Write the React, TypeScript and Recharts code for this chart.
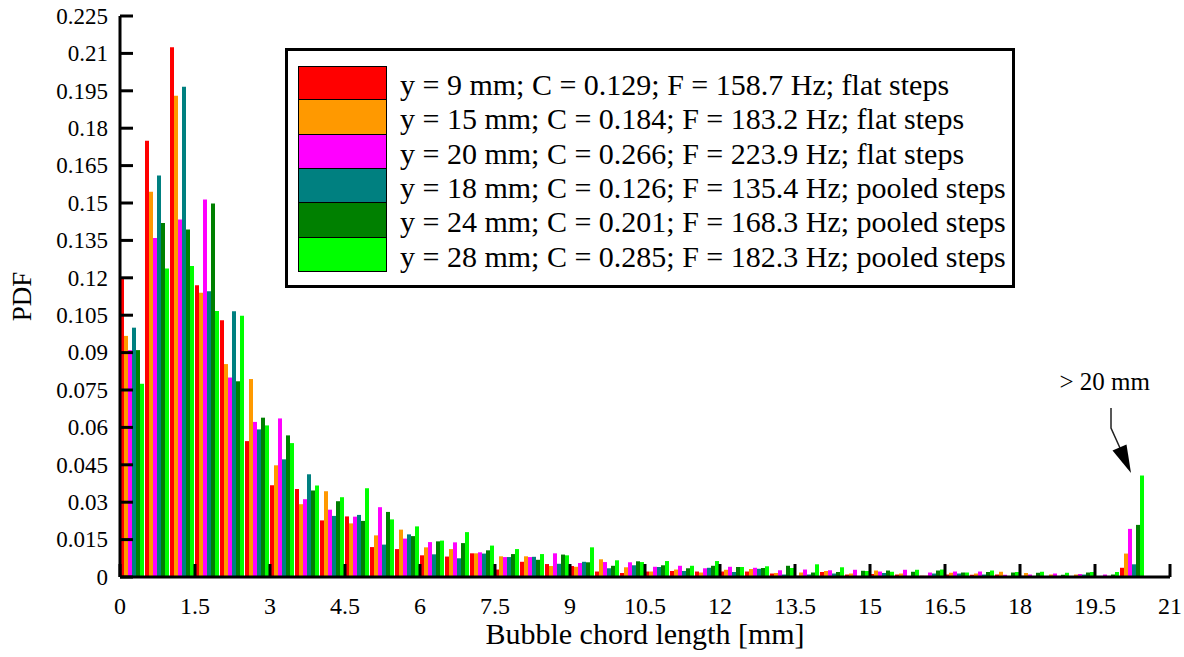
import React from 'react';
import { BarChart, Bar, XAxis, YAxis, Legend, ReferenceDot } from 'recharts';

const FONT = "'Liberation Serif', 'Times New Roman', Times, serif";

// bin centres (bins of 0.5 mm; last bin = chords > 20 mm)
const binCenters = [
  0.25, 0.75, 1.25, 1.75, 2.25, 2.75, 3.25, 3.75, 4.25, 4.75,
  5.25, 5.75, 6.25, 6.75, 7.25, 7.75, 8.25, 8.75, 9.25, 9.75,
  10.25, 10.75, 11.25, 11.75, 12.25, 12.75, 13.25, 13.75, 14.25, 14.75,
  15.25, 15.75, 16.25, 16.75, 17.25, 17.75, 18.25, 18.75, 19.25, 19.75,
  20.25,
];

const flat9 = [
  0.120, 0.175, 0.2125, 0.117, 0.103, 0.0545, 0.0368, 0.0353, 0.0227, 0.0243,
  0.012, 0.0112, 0.0087, 0.0082, 0.0095, 0.0030, 0.0061, 0.0052, 0.0044, 0.0022,
  0.0016, 0.0022, 0.0024, 0.0022, 0.0022, 0.0022, 0.0014, 0.0005, 0.0020, 0.0010,
  0.0012, 0.0010, 0.0005, 0.0010, 0.0009, 0.0010, 0.0005, 0.0003, 0.0002, 0.0003,
  0.0037,
];
const flat15 = [
  0.0967, 0.1545, 0.193, 0.114, 0.0854, 0.0794, 0.0448, 0.0292, 0.0344, 0.0215,
  0.0167, 0.019, 0.0119, 0.0112, 0.0095, 0.0083, 0.0083, 0.0044, 0.0041, 0.0071,
  0.0039, 0.0022, 0.0030, 0.0018, 0.0029, 0.0032, 0.0016, 0.0018, 0.0024, 0.0014,
  0.0026, 0.0014, 0.0005, 0.0017, 0.0014, 0.0021, 0.0016, 0.0010, 0.0010, 0.0003,
  0.0094,
];
const flat20 = [
  0.091, 0.136, 0.1434, 0.1514, 0.080, 0.0622, 0.0636, 0.0312, 0.027, 0.0242,
  0.028, 0.0154, 0.014, 0.0139, 0.0099, 0.008, 0.008, 0.0095, 0.0056, 0.006,
  0.0059, 0.0041, 0.0045, 0.0035, 0.0041, 0.0037, 0.0027, 0.0030, 0.0027, 0.0029,
  0.0022, 0.0029, 0.0018, 0.0022, 0.0022, 0.0009, 0.0010, 0.0014, 0.0012, 0.0010,
  0.0193,
];
const pooled18 = [
  0.100, 0.161, 0.1966, 0.1146, 0.1066, 0.0592, 0.0472, 0.0412, 0.0245, 0.0249,
  0.013, 0.0171, 0.0091, 0.0075, 0.0094, 0.008, 0.0081, 0.0053, 0.0061, 0.0035,
  0.0047, 0.0040, 0.0024, 0.0037, 0.0020, 0.0033, 0.0010, 0.0010, 0.0014, 0.0002,
  0.0016, 0.0003, 0.0014, 0.0014, 0.0010, 0.0002, 0.0002, 0.0003, 0.0010, 0.0002,
  0.0051,
];
const pooled24 = [
  0.091, 0.142, 0.1394, 0.1498, 0.0785, 0.0639, 0.0568, 0.0347, 0.0304, 0.0225,
  0.0261, 0.0164, 0.0143, 0.0136, 0.0107, 0.0092, 0.0069, 0.009, 0.0059, 0.0045,
  0.0063, 0.0047, 0.0035, 0.0045, 0.0040, 0.0036, 0.0045, 0.0018, 0.0020, 0.0025,
  0.0026, 0.0021, 0.0026, 0.0018, 0.0020, 0.0018, 0.0017, 0.0009, 0.0018, 0.0010,
  0.0209,
];
const pooled28 = [
  0.0775, 0.1237, 0.1247, 0.1067, 0.1048, 0.0608, 0.0537, 0.0367, 0.032, 0.0356,
  0.0231, 0.0203, 0.0146, 0.018, 0.0126, 0.0112, 0.0092, 0.0087, 0.0119, 0.0067,
  0.0060, 0.0064, 0.0045, 0.0064, 0.0040, 0.0043, 0.0036, 0.0051, 0.0039, 0.0024,
  0.0021, 0.0029, 0.0030, 0.0018, 0.0026, 0.0020, 0.0021, 0.0017, 0.0020, 0.0020,
  0.0407,
];

const seriesNames = [
  'y = 9 mm; C = 0.129; F = 158.7 Hz; flat steps',
  'y = 15 mm; C = 0.184; F = 183.2 Hz; flat steps',
  'y = 20 mm; C = 0.266; F = 223.9 Hz; flat steps',
  'y = 18 mm; C = 0.126; F = 135.4 Hz; pooled steps',
  'y = 24 mm; C = 0.201; F = 168.3 Hz; pooled steps',
  'y = 28 mm; C = 0.285; F = 182.3 Hz; pooled steps',
];
const seriesColors = ['#ff0000', '#ff9900', '#ff00ff', '#008080', '#008000', '#00ff00'];
const seriesValues = [flat9, flat15, flat20, pooled18, pooled24, pooled28];

const xTicks = [0, 1.5, 3, 4.5, 6, 7.5, 9, 10.5, 12, 13.5, 15, 16.5, 18, 19.5, 21];
const yTicks = [0, 0.015, 0.03, 0.045, 0.06, 0.075, 0.09, 0.105, 0.12, 0.135, 0.15, 0.165, 0.18, 0.195, 0.21, 0.225];

const data = binCenters.map((x, i) => {
  const row: Record<string, number> = { x };
  seriesValues.forEach((arr, k) => {
    row['s' + k] = arr[i];
  });
  return row;
});

const TICK_LEN = 13;

const BottomTick = (props: any) => {
  const { x, y, payload } = props;
  return (
    <g>
      <line x1={x} x2={x} y1={y} y2={y - TICK_LEN} stroke="#000" strokeWidth={3} />
      <text x={x} y={y + 37} textAnchor="middle" fontSize={24} fontFamily={FONT} fill="#000">
        {String(payload.value)}
      </text>
    </g>
  );
};
const TopTick = (props: any) => {
  const { x, y } = props;
  return <line x1={x} x2={x} y1={y} y2={y + TICK_LEN} stroke="#000" strokeWidth={3} />;
};
const LeftTick = (props: any) => {
  const { x, y, payload } = props;
  return (
    <g>
      <line x1={x} x2={x + TICK_LEN} y1={y} y2={y} stroke="#000" strokeWidth={3} />
      <text x={x - 12} y={y} dy="0.34em" textAnchor="end" fontSize={23} fontFamily={FONT} fill="#000">
        {String(payload.value)}
      </text>
    </g>
  );
};
const RightTick = (props: any) => {
  const { x, y } = props;
  return <line x1={x} x2={x - TICK_LEN} y1={y} y2={y} stroke="#000" strokeWidth={3} />;
};

const Annotation = (props: any) => {
  const { cx, cy } = props;
  return (
    <g>
      <text x={cx + 5} y={cy} textAnchor="end" fontSize={25} fontFamily={FONT} fill="#000">
        &gt; 20 mm
      </text>
      <polyline
        points={`${cx - 34},${cy + 18} ${cx - 34},${cy + 38} ${cx - 25},${cy + 58}`}
        fill="none"
        stroke="#222"
        strokeWidth={1.5}
      />
      <polygon points={`${cx - 14},${cy + 83} ${cx - 32.5},${cy + 60.5} ${cx - 18.5},${cy + 54.5}`} fill="#000" />
    </g>
  );
};

const LegendBox = () => (
  <div
    style={{
      boxSizing: 'border-box',
      width: 730,
      height: 240,
      border: '3px solid #000',
      background: '#fff',
      paddingTop: 15,
      paddingLeft: 10,
      fontFamily: FONT,
    }}
  >
    {seriesNames.map((name, i) => (
      <div key={name} style={{ display: 'flex', alignItems: 'center', height: 34.33 }}>
        <div
          style={{
            boxSizing: 'border-box',
            width: 89,
            height: 34.33,
            background: seriesColors[i],
            borderLeft: '1px solid #000',
            borderRight: '1px solid #000',
            borderBottom: '1px solid #000',
            borderTop: i === 0 ? '1px solid #000' : 'none',
          }}
        />
        <span
          style={{
            marginLeft: 13,
            fontSize: 30,
            lineHeight: 1,
            whiteSpace: 'nowrap',
            color: '#000',
            position: 'relative',
            top: 2,
          }}
        >
          {name}
        </span>
      </div>
    ))}
  </div>
);

export default function App() {
  return (
    <div style={{ position: 'absolute', left: 0, top: 0, width: 1184, height: 657, background: '#fff' }}>
      <BarChart
        width={1184}
        height={657}
        data={data}
        margin={{ top: 16, right: 14, bottom: 10, left: 0 }}
        barCategoryGap={0}
        barGap={0}
      >
        <XAxis
          xAxisId="bottom"
          dataKey="x"
          type="number"
          domain={[0, 21]}
          ticks={xTicks}
          interval={0}
          allowDataOverflow
          height={70}
          tickSize={0}
          tickMargin={0}
          tickLine={false}
          tick={<BottomTick />}
          axisLine={{ stroke: '#000', strokeWidth: 3 }}
          label={{
            value: 'Bubble chord length [mm]',
            position: 'insideBottom',
            offset: 3,
            style: { fontSize: 30, fontFamily: FONT, fill: '#000' },
          }}
        />
        <XAxis
          xAxisId="top"
          orientation="top"
          dataKey="x"
          type="number"
          domain={[0, 21]}
          ticks={xTicks}
          interval={0}
          allowDataOverflow
          height={0}
          tickSize={0}
          tickMargin={0}
          tickLine={false}
          tick={<TopTick />}
          axisLine={{ stroke: '#000', strokeWidth: 3 }}
        />
        <YAxis
          yAxisId="left"
          type="number"
          domain={[0, 0.225]}
          ticks={yTicks}
          interval={0}
          allowDataOverflow
          width={120}
          tickSize={0}
          tickMargin={0}
          tickLine={false}
          tick={<LeftTick />}
          axisLine={{ stroke: '#000', strokeWidth: 3 }}
          label={{
            value: 'PDF',
            angle: -90,
            position: 'insideLeft',
            offset: 21,
            style: { textAnchor: 'middle', fontSize: 27, fontFamily: FONT, fill: '#000' },
          }}
        />
        <YAxis
          yAxisId="right"
          orientation="right"
          type="number"
          domain={[0, 0.225]}
          ticks={yTicks}
          interval={0}
          allowDataOverflow
          width={0}
          tickSize={0}
          tickMargin={0}
          tickLine={false}
          tick={<RightTick />}
          axisLine={{ stroke: '#000', strokeWidth: 3 }}
        />
        {seriesColors.map((c, k) => (
          <Bar
            key={k}
            dataKey={'s' + k}
            name={seriesNames[k]}
            fill={c}
            xAxisId="bottom"
            yAxisId="left"
            isAnimationActive={false}
          />
        ))}
        <ReferenceDot
          x={20.5}
          y={0.075}
          xAxisId="bottom"
          yAxisId="left"
          ifOverflow="visible"
          shape={<Annotation />}
        />
        <Legend
          layout="horizontal"
          verticalAlign="middle"
          align="center"
          wrapperStyle={{ position: 'absolute', left: 285, top: 48, width: 730, height: 240 }}
          content={() => <LegendBox />}
        />
      </BarChart>
    </div>
  );
}
